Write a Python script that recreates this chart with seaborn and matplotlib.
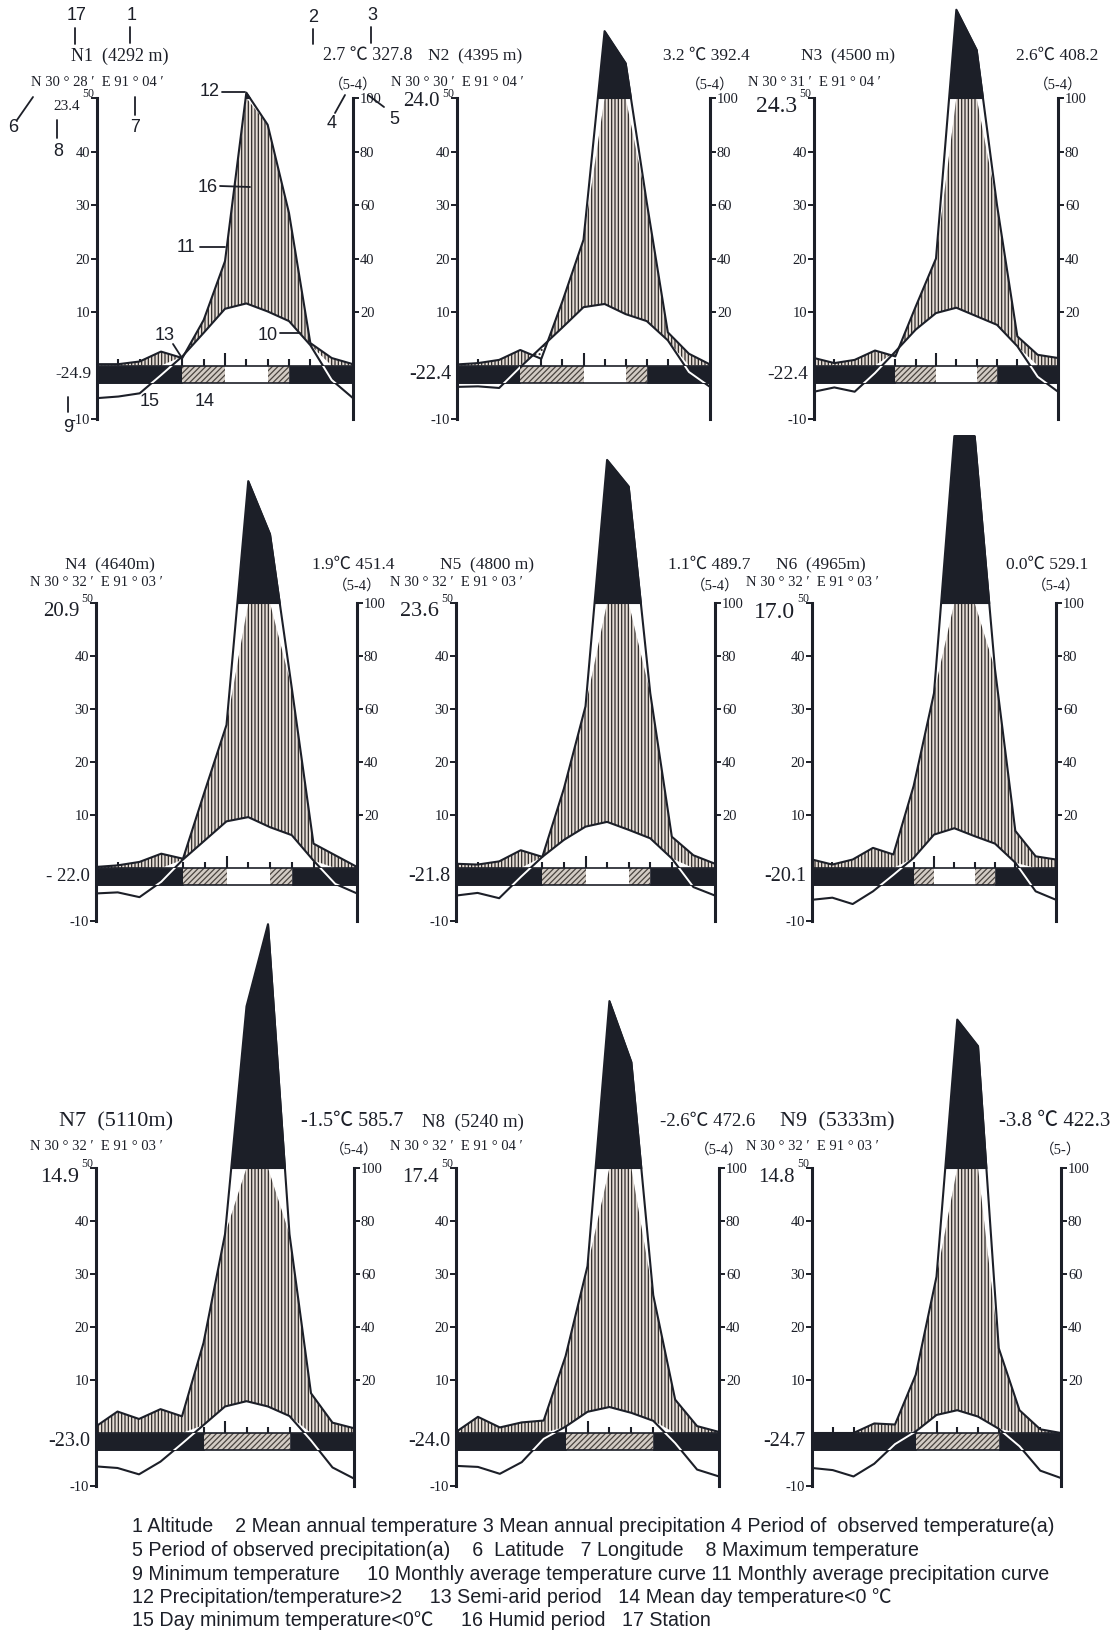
import numpy as np
import pandas as pd
import matplotlib
matplotlib.use("Agg")
import matplotlib.pyplot as plt
import seaborn as sns
from matplotlib.patches import Rectangle
from matplotlib import font_manager

# ---------------------------------------------------------------- data
stations = ['N1', 'N2', 'N3', 'N4', 'N5', 'N6', 'N7', 'N8', 'N9']
altitudes = ['(4292 m)', '(4395 m)', '(4500 m)', '(4640m)', '(4800 m)',
             '(4965m)', '(5110m)', '(5240 m)', '(5333m)']
latitudes = ['30 ° 28 ′', '30 ° 30 ′', '30 ° 31 ′', '30 ° 32 ′', '30 ° 32 ′',
             '30 ° 32 ′', '30 ° 32 ′', '30 ° 32 ′', '30 ° 32 ′']
longitudes = ['91 ° 04 ′', '91 ° 04 ′', '91 ° 04 ′', '91 ° 03 ′', '91 ° 03 ′',
              '91 ° 03 ′', '91 ° 03 ′', '91 ° 04 ′', '91 ° 03 ′']
mean_temp_txt = ['2.7 ℃', '3.2 ℃', '2.6℃', '1.9℃', '1.1℃', '0.0℃',
                 '-1.5℃', '-2.6℃', '-3.8 ℃']
annual_precip = ['327.8', '392.4', '408.2', '451.4', '489.7', '529.1',
                 '585.7', '472.6', '422.3']
obs_period = ['（5-4）'] * 8 + ['（5-）']
max_temp = ['23.4', '24.0', '24.3', '20.9', '23.6', '17.0', '14.9', '17.4', '14.8']
min_temp = ['-24.9', '-22.4', '-22.4', '- 22.0', '-21.8', '-20.1', '-23.0', '-24.0', '-24.7']

# monthly mean temperature (°C), 13 points along the year axis
temp_N1 = [-6.1, -5.8, -5.2, -1.8, 1.7, 6.1, 10.6, 11.6, 10.1, 8.3, 3.8, -2.7, -6.1]
temp_N2 = [-4.0, -3.9, -4.2, -0.3, 3.4, 7.1, 10.9, 11.5, 9.6, 8.3, 4.7, -1.2, -4.0]
temp_N3 = [-4.9, -4.1, -4.9, -1.4, 2.6, 6.7, 9.8, 10.8, 9.2, 7.6, 3.6, -2.1, -4.9]
temp_N4 = [-4.8, -4.6, -5.5, -2.6, 1.6, 5.2, 8.8, 9.6, 7.7, 6.2, 1.4, -3.0, -4.8]
temp_N5 = [-5.2, -4.7, -5.7, -1.7, 2.1, 5.3, 7.8, 8.7, 7.2, 5.6, 1.8, -3.6, -5.2]
temp_N6 = [-6.0, -5.6, -6.8, -4.4, -1.3, 1.9, 6.3, 7.5, 6.0, 4.6, 1.0, -4.4, -6.0]
temp_N7 = [-6.3, -6.6, -7.8, -5.4, -2.0, 1.5, 5.0, 6.0, 5.0, 3.2, -1.4, -6.5, -8.6]
temp_N8 = [-6.2, -6.4, -7.7, -5.5, -1.1, 1.2, 4.0, 4.9, 3.8, 2.3, -1.9, -6.9, -8.2]
temp_N9 = [-6.6, -7.0, -8.2, -5.8, -2.1, 0.3, 3.4, 4.3, 3.1, 0.8, -2.5, -7.1, -8.5]

# monthly precipitation (mm), 13 points along the year axis
prec_N1 = [0.5, 0.5, 1.5, 5.2, 2.8, 17, 39, 102, 90, 57, 8.4, 2.8, 0.5]
prec_N2 = [0.4, 0.9, 2.1, 5.8, 2.5, 24, 47, 125, 113, 61, 12.4, 4.4, 0.4]
prec_N3 = [2.8, 0.9, 2.1, 5.6, 3.4, 22, 40, 133, 118, 60, 10.9, 4.0, 2.8]
prec_N4 = [0.4, 1.0, 2.3, 5.4, 3.5, 29, 54, 146, 126, 68, 9.2, 4.8, 0.4]
prec_N5 = [1.6, 1.3, 2.5, 6.7, 4.2, 30, 61, 154, 144, 66, 11.8, 4.8, 1.6]
prec_N6 = [3.2, 1.3, 3.2, 7.6, 5.1, 31, 66, 163, 163, 75, 14, 4.4, 3.2]
prec_N7 = [2.5, 8.1, 5.3, 9.0, 6.3, 34, 75, 161, 192, 75, 15, 3.9, 1.8]
prec_N8 = [0.4, 6.1, 2.1, 4.0, 4.7, 29, 63, 163, 140, 52, 12.6, 2.6, 0.4]
prec_N9 = [0.0, 0.0, 0.0, 3.6, 3.2, 22, 59, 156, 146, 32, 8.6, 1.4, 0.0]

# frost band per month: B = mean day temp < 0, H = day minimum < 0, W = frost free
frost_N1 = list('BBBBHHWWHBBB')
frost_N2 = list('BBBHHHWWHBBB')
frost_N3 = list('BBBBHHWWHBBB')
frost_N4 = list('BBBBHHWWHBBB')
frost_N5 = list('BBBBHHWWHBBB')
frost_N6 = list('BBBBBHWWHBBB')
frost_N7 = list('BBBBBHHHHBBB')
frost_N8 = list('BBBBBHHHHBBB')
frost_N9 = list('BBBBBHHHHBBB')

temp_series = [temp_N1, temp_N2, temp_N3, temp_N4, temp_N5, temp_N6, temp_N7, temp_N8, temp_N9]
prec_series = [prec_N1, prec_N2, prec_N3, prec_N4, prec_N5, prec_N6, prec_N7, prec_N8, prec_N9]
frost_series = [frost_N1, frost_N2, frost_N3, frost_N4, frost_N5, frost_N6, frost_N7, frost_N8, frost_N9]

legend_lines = [
    "1 Altitude    2 Mean annual temperature 3 Mean annual precipitation 4 Period of  observed temperature(a)",
    "5 Period of observed precipitation(a)    6  Latitude   7 Longitude    8 Maximum temperature",
    "9 Minimum temperature     10 Monthly average temperature curve 11 Monthly average precipitation curve",
    "12 Precipitation/temperature>2     13 Semi-arid period   14 Mean day temperature<0 ℃",
    "15 Day minimum temperature<0℃     16 Humid period   17 Station",
]

# ---------------------------------------------------------------- layout / style
W, H = 1117, 1636
INK = '#1c1f28'
HATCH_BG = '#e5ddd6'
HATCH_INK = '#2e2a28'
BAND_HATCH_BG = '#d3ccc5'
BAND_LO = -3.3

# (left axis x, right axis x, y of 50 line, y of -10 line) in pixels
panel_px = [(97, 353, 98, 419), (457, 710, 98, 419), (814, 1058, 98, 419),
            (96, 357, 603, 921), (456, 715, 603, 921), (812, 1056, 603, 921),
            (96, 354, 1168, 1486), (456, 719, 1168, 1486), (812, 1061, 1168, 1486)]
title_dx = [23, 18, 34, 14, 31, 9, 20, 17, 25]
title_dy = [-42, -42, -42, -38, -38, -38, -46, -46, -46]
coord_dy = [-16, -16, -16, -20, -20, -20, -21, -21, -21]
title_size = [13, 12.5, 12.5, 12.5, 12.5, 12.5, 16, 13.5, 16]
right_dx = [59, 40, 40, 38, 35, 32, 49, 36, 49]
right_size = [13, 12.5, 12.5, 12.5, 12.5, 12.5, 14.5, 13.5, 15]
max_size = [11, 15, 17, 15, 16, 17, 16, 15, 15]
max_dy = [9, 4, 9, 9, 9, 9, 9, 9, 9]
min_size = [12.5, 14.5, 14, 13.5, 14.5, 14.5, 14.5, 14.5, 14.5]

sns.set_theme(style="white")
names = {f.name for f in font_manager.fontManager.ttflist}
SERIF = ['Liberation Serif', 'Noto Sans CJK SC', 'DejaVu Serif']
SANS = ['Liberation Sans', 'Noto Sans CJK SC', 'DejaVu Sans']
NARROW = (['Liberation Sans Narrow'] if 'Liberation Sans Narrow' in names else []) + SANS
plt.rcParams['font.family'] = SERIF
plt.rcParams['hatch.linewidth'] = 0.9
plt.rcParams['axes.unicode_minus'] = False

fig = plt.figure(figsize=(W / 100, H / 100), dpi=100)
fig.patch.set_facecolor('white')


def ftext(x, y, s, **kw):
    return fig.text(x / W, 1 - y / H, s, **kw)


def fline(xs, ys, **kw):
    fig.add_artist(plt.Line2D([v / W for v in xs], [1 - v / H for v in ys],
                              color=INK, lw=1.3, **kw))


for k in range(9):
    l, r, yt, yb = panel_px[k]
    ax = fig.add_axes([l / W, 1 - yb / H, (r - l) / W, (yb - yt) / H])
    ax.set_xlim(0, 12)
    ax.set_ylim(-10, 50)
    ax.patch.set_alpha(0)

    t = np.asarray(temp_series[k], float)
    p = np.asarray(prec_series[k], float) / 2.0      # 20 mm <-> 10 °C
    x = np.arange(len(t), dtype=float)
    df = pd.DataFrame({'month': x, 'temp': t, 'prec': p})
    frost = frost_series[k]

    # month ticks on the frost band
    for m in range(1, 12):
        h = 2.3 if m == 6 else 1.2
        ax.plot([m, m], [0, h], color=INK, lw=1.5, zorder=1, solid_capstyle='butt')

    # humid period (vertical hatch)
    lower = np.clip(t, 0, None)
    ax.fill_between(x, lower, np.minimum(p, 50), where=p >= lower, interpolate=True,
                    facecolor=HATCH_BG, edgecolor=HATCH_INK, hatch='|||||',
                    linewidth=0, zorder=2)
    # semi-arid period (dotted)
    ax.fill_between(x, p, t, where=(t > p), interpolate=True,
                    facecolor='white', edgecolor=HATCH_INK, hatch='....',
                    linewidth=0, zorder=2)
    # precipitation > 100 mm (black)
    ax.fill_between(x, 50, p, where=p > 50, interpolate=True, facecolor=INK,
                    edgecolor=INK, linewidth=0.8, zorder=3, clip_on=False)

    # frost band
    runs = []
    start = 0
    for m in range(1, 13):
        if m == 12 or frost[m] != frost[start]:
            runs.append((start, m, frost[start]))
            start = m
    for a, b, c in runs:
        if c == 'B':
            rect = Rectangle((a, BAND_LO), b - a, -BAND_LO, facecolor=INK, edgecolor=INK,
                             lw=0.5, zorder=4)
        elif c == 'H':
            rect = Rectangle((a, BAND_LO), b - a, -BAND_LO, facecolor=BAND_HATCH_BG,
                             edgecolor='#4a4440', hatch='//////', lw=0, zorder=4)
        else:
            rect = Rectangle((a, BAND_LO), b - a, -BAND_LO, facecolor='white',
                             edgecolor='none', lw=0, zorder=4)
        ax.add_patch(rect)
    ax.add_patch(Rectangle((0, BAND_LO), 12, -BAND_LO, fill=False, edgecolor=INK,
                           lw=1.2, zorder=5))

    # curves
    sns.lineplot(data=df, x='month', y='prec', ax=ax, color=INK, lw=1.5,
                 estimator=None, sort=False, legend=False, zorder=6, clip_on=False)
    sns.lineplot(data=df, x='month', y='temp', ax=ax, color=INK, lw=1.5,
                 estimator=None, sort=False, legend=False, zorder=6, clip_on=False)
    for a, b, c in runs:
        if c != 'B':
            continue
        clip = Rectangle((a, BAND_LO), b - a, -BAND_LO, transform=ax.transData)
        ln, = ax.plot(df['month'], df['temp'], color='white', lw=1.4, zorder=7)
        ln.set_clip_path(clip)

    # axes
    for s in ['top', 'bottom', 'right']:
        ax.spines[s].set_visible(False)
    ax.spines['left'].set_linewidth(2.2)
    ax.spines['left'].set_color(INK)
    ax.set_xticks([])
    ax.set_xlabel('')
    ax.set_ylabel('')
    ax.set_yticks([-10, 10, 20, 30, 40, 50])
    ax.set_yticklabels(['-10', '10', '20', '30', '40', ''])
    ax.tick_params(axis='y', direction='out', length=4, width=1.4, pad=1,
                   labelsize=10.5, colors=INK, left=True)

    ax2 = ax.twinx()
    ax2.set_ylim(-20, 100)
    for s in ['top', 'bottom', 'left']:
        ax2.spines[s].set_visible(False)
    ax2.spines['right'].set_linewidth(2.2)
    ax2.spines['right'].set_color(INK)
    ax2.set_yticks([20, 40, 60, 80, 100])
    ax2.set_yticklabels(['20', '40', '60', '80', '100'])
    ax2.tick_params(axis='y', direction='out', length=4, width=1.4, pad=1,
                    labelsize=10.5, colors=INK, right=True)
    ax2.grid(False)
    ax.grid(False)

    # texts around the panel
    y0 = yt + (yb - yt) * 50 / 60.0          # 0 °C line
    ftext(l - 3, yt - 4, '50', ha='right', va='center', fontsize=8.5, color=INK)
    ftext(l + title_dx[k], yt + title_dy[k], f'{stations[k]}  {altitudes[k]}',
          ha='center', va='center', fontsize=title_size[k], color=INK)
    ftext(l, yt + coord_dy[k], f'N {latitudes[k]}  E {longitudes[k]}',
          ha='center', va='center', fontsize=10.5, color=INK)
    ftext(r + right_dx[k], yt + title_dy[k], f'{mean_temp_txt[k]} {annual_precip[k]}',
          ha='right', va='center', fontsize=right_size[k], color=INK)
    ftext(r, yt + coord_dy[k] + 3, obs_period[k], ha='center', va='center',
          fontsize=10.5, color=INK)
    ftext(l - 17, yt + max_dy[k], max_temp[k], ha='right', va='center',
          fontsize=max_size[k], color=INK)
    ftext(l - 6, y0 + (yb - yt) * 1.65 / 60.0, min_temp[k], ha='right', va='center',
          fontsize=min_size[k], color=INK)

# ---------------------------------------------------------------- numbered key (N1)
key_labels = [('17', 77, 16), ('1', 132, 15), ('2', 313, 17), ('3', 372, 15),
              ('6', 13, 128), ('8', 58, 152), ('7', 135, 127), ('4', 332, 123),
              ('5', 394, 120), ('12', 210, 92), ('16', 208, 188), ('11', 186, 248),
              ('13', 165, 335), ('10', 268, 335), ('15', 150, 402), ('14', 205, 402),
              ('9', 68, 427)]
for s, xx, yy in key_labels:
    ftext(xx, yy, s, ha='center', va='center', fontsize=13, color=INK, family=SANS)
leaders = [((75, 75), (28, 44)), ((130, 130), (27, 43)), ((313, 313), (29, 44)),
           ((371, 371), (27, 43)), ((17, 33), (120, 97)), ((57, 57), (120, 138)),
           ((135, 135), (97, 115)), ((335, 345), (113, 95)), ((368, 384), (95, 107)),
           ((222, 245), (92, 92)), ((220, 250), (186, 187)), ((200, 225), (247, 247)),
           ((173, 182), (344, 358)), ((280, 300), (333, 333)), ((68, 68), (397, 412))]
for xs, ys in leaders:
    fline(xs, ys)

# ---------------------------------------------------------------- legend text
renderer = fig.canvas.get_renderer()
probe = ftext(132, 1527, legend_lines[0], ha='left', va='center', fontsize=12,
              family=NARROW, color=INK)
wpx = probe.get_window_extent(renderer).width
probe.remove()
leg_size = 12 * 919.0 / wpx
for i, line in enumerate(legend_lines):
    ftext(132, 1527 + 23.5 * i, line, ha='left', va='center', fontsize=leg_size,
          family=NARROW, color=INK)

fig.savefig('out.png', dpi=100, facecolor='white')
